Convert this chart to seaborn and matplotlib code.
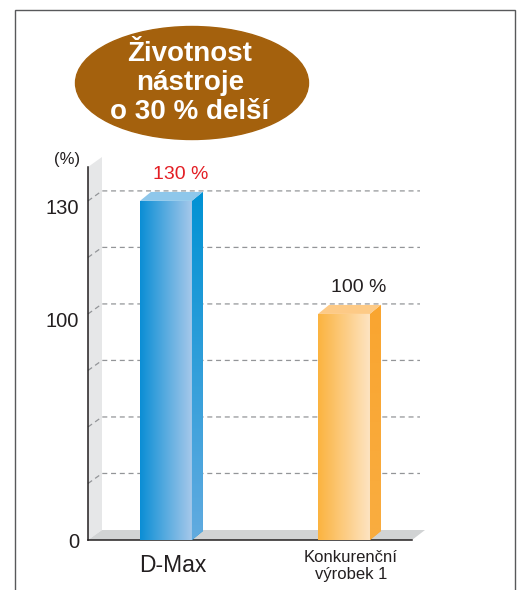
import numpy as np
import pandas as pd
import matplotlib
matplotlib.use("Agg")
import matplotlib.pyplot as plt
import seaborn as sns
from matplotlib.colors import LinearSegmentedColormap
from matplotlib.patches import Polygon, Ellipse, Rectangle
from matplotlib.transforms import ScaledTranslation

# ── Data ────────────────────────────────────────────────────
products = ["D-Max", "Konkurenční\nvýrobek 1"]
lifetime = [130, 100]
value_labels = ["130 %", "100 %"]
label_colors = ["#e31e24", "#231f20"]
yticks = [0, 100, 130]
grid_values = [25, 50, 75, 100, 115, 130]
title_lines = ["Životnost", "nástroje", "o 30 % delší"]

# bar colours: front gradient (left, right), side gradient (top, bottom), top face
front_colors = [("#0a8ed5", "#a6c8ea"), ("#fbb33f", "#fee4c2")]
side_colors = [("#0092d4", "#62abe0"), ("#f9a530", "#f9ad40")]
top_colors = ["#8ec7eb", "#fdca86"]

# ── Setup ───────────────────────────────────────────────────
sns.set_theme(style="white")
plt.rcParams["font.family"] = ["Liberation Sans", "DejaVu Sans"]

W, H, DPI = 519, 590, 100
fig = plt.figure(figsize=(W / DPI, H / DPI), dpi=DPI)
ax = fig.add_axes([88 / W, 50 / H, 324 / W, 373 / H])


# broken y axis: 25 per step below 100, 15 per step above
def fwd(v):
    v = np.asarray(v, dtype=float)
    return np.where(v <= 100, v / 25, 4 + (v - 100) / 15)


def inv(t):
    t = np.asarray(t, dtype=float)
    return np.where(t <= 4, t * 25, 100 + (t - 4) * 15)


# ── Bars ────────────────────────────────────────────────────
df = pd.DataFrame({"product": products, "lifetime": lifetime})
sns.barplot(data=df, x="product", y="lifetime", hue="product",
            palette=[c[0] for c in front_colors], saturation=1,
            width=0.292, errorbar=None, legend=False, ax=ax,
            linewidth=0, zorder=5)

ax.set_yscale("function", functions=(fwd, inv))
ax.set_ylim(0, 139)
ax.set_xlim(-0.438, 1.382)
ax.set_xlabel("")
ax.patch.set_alpha(0)

to_ax = lambda pts: ax.transAxes.inverted().transform(ax.transData.transform(pts))

# pseudo-3D depth (axes fractions)
ax_w, ax_h = 324, 373
wdx, wdy = 14 / ax_w, 10 / ax_h     # wall / floor
bdx, bdy = 11 / ax_w, 9 / ax_h      # bars

# wall and floor
ax.add_patch(Polygon([(0, 0), (0, 1), (wdx, 1 + wdy), (wdx, wdy)],
                     transform=ax.transAxes, fc="#e6e7e8", ec="none",
                     clip_on=False, zorder=0.5))
ax.add_patch(Polygon([(0, 0), (1, 0), (1 + 13 / ax_w, wdy), (wdx, wdy)],
                     transform=ax.transAxes, fc="#d1d3d4", ec="none",
                     clip_on=False, zorder=1))

# dashed grid on the back wall
for g in grid_values:
    yg = to_ax([(0, g)])[0][1]
    ax.plot([0, wdx, 1 + 8 / ax_w], [yg, yg + wdy, yg + wdy],
            transform=ax.transAxes, ls=(0, (4, 3)), color="#939598",
            lw=0.9, clip_on=False, zorder=1.5)


def gradient(patch, c0, c1, extent, vertical=False):
    cmap = LinearSegmentedColormap.from_list("g", [c0, c1])
    grad = np.linspace(0, 1, 256)
    grad = grad[:, None] if vertical else grad[None, :]
    im = ax.imshow(grad, cmap=cmap, aspect="auto", extent=extent,
                   origin="lower", transform=ax.transAxes,
                   interpolation="bilinear", zorder=6)
    im.set_clip_path(patch)


for i, bar in enumerate(ax.patches[:len(products)]):
    x0 = bar.get_x()
    x1 = x0 + bar.get_width()
    h = bar.get_height()
    (ax0, ay0), (ax1, ay1) = to_ax([(x0, 0), (x1, h)])

    # front face gradient
    gradient(bar, front_colors[i][0], front_colors[i][1], (ax0, ax1, 0, 1))

    # side face
    side = Polygon([(ax1, ay0), (ax1, ay1), (ax1 + bdx, ay1 + bdy), (ax1 + bdx, ay0 + bdy)],
                   transform=ax.transAxes, fc=side_colors[i][0], ec="none",
                   clip_on=False, zorder=6)
    ax.add_patch(side)
    gradient(side, side_colors[i][1], side_colors[i][0],
             (ax1, ax1 + bdx, 0, ay1 + bdy), vertical=True)

    # top face
    ax.add_patch(Polygon([(ax0, ay1), (ax1, ay1), (ax1 + bdx, ay1 + bdy), (ax0 + bdx, ay1 + bdy)],
                         transform=ax.transAxes, fc=top_colors[i], ec="none",
                         clip_on=False, zorder=6))

    # value label
    ax.annotate(value_labels[i], xy=(bar.get_x() + bar.get_width() / 2, h),
                xytext=(10.8, 18.7), textcoords="offset points",
                ha="center", va="center", color=label_colors[i],
                fontsize=14, zorder=7)

# ── Axes styling ────────────────────────────────────────────
for s in ["top", "right"]:
    ax.spines[s].set_visible(False)
for s in ["left", "bottom"]:
    ax.spines[s].set_color("#231f20")
    ax.spines[s].set_linewidth(1.1)
    ax.spines[s].set_zorder(2)

ax.set_yticks(yticks)
ax.set_yticklabels([str(v) for v in yticks])
ax.tick_params(axis="y", length=0, pad=6.5, labelsize=14.5, labelcolor="#231f20")
ax.tick_params(axis="x", length=0, pad=18.7, labelcolor="#231f20")
ax.minorticks_off()

ax.set_ylabel("(%)", rotation=0, fontsize=12, color="#231f20", ha="center", va="center")
ax.yaxis.set_label_coords(-0.065, 1.019)

# y labels sit a little below their level (except the baseline 0)
drop = ScaledTranslation(0, -6 / DPI, fig.dpi_scale_trans)
for lab, v in zip(ax.get_yticklabels(), yticks):
    if v > 0:
        lab.set_transform(lab.get_transform() + drop)

shift = ScaledTranslation(7 / DPI, 0, fig.dpi_scale_trans)
for lab, fs in zip(ax.get_xticklabels(), [16.5, 12]):
    lab.set_fontsize(fs)
    lab.set_va("center")
    lab.set_multialignment("center")
    lab.set_transform(lab.get_transform() + shift)

# ── Title badge and frame ───────────────────────────────────
fig.add_artist(Ellipse((192 / W, 1 - 83 / H), 233 / W, 113 / H,
                       transform=fig.transFigure, color="#a4610d"))
fig.text(190 / W, 1 - 83 / H, "\n".join(title_lines), ha="center", va="center",
         color="white", fontsize=20, fontweight="bold", linespacing=1.16)
fig.add_artist(Rectangle((15 / W, -0.05), 500 / W, 0.05 + (H - 10) / H,
                         transform=fig.transFigure, fill=False,
                         ec="#58595b", lw=1))

plt.savefig("out.png", dpi=DPI)
